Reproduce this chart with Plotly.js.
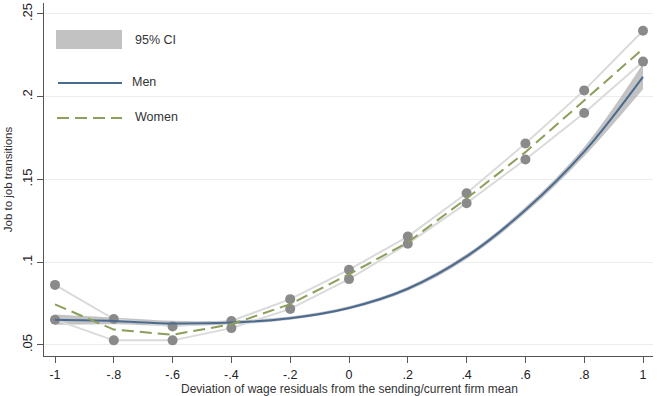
<!DOCTYPE html>
<html>
<head>
<meta charset="utf-8">
<script src="https://cdn.plot.ly/plotly-3.0.1.min.js"></script>
<style>
  html, body { margin: 0; padding: 0; background: #ffffff; }
  #chart { width: 657px; height: 396px; }
</style>
</head>
<body>
<div id="chart"></div>
<script>
// Wage-residual deviation grid (x) and tick labels
const deviation = [-1, -0.8, -0.6, -0.4, -0.2, 0, 0.2, 0.4, 0.6, 0.8, 1];
const xTickText = ["-1", "-.8", "-.6", "-.4", "-.2", "0", ".2", ".4", ".6", ".8", "1"];
const yTickVals = [0.05, 0.1, 0.15, 0.2, 0.25];
const yTickText = [".05", ".1", ".15", ".2", ".25"];

// Men: predicted job-to-job transition rate and 95% CI
const men      = [0.0652, 0.0645, 0.0630, 0.0636, 0.0662, 0.0724, 0.0840, 0.1035, 0.1315, 0.1668, 0.2120];
const menLow   = [0.0622, 0.0625, 0.0615, 0.0624, 0.0652, 0.0714, 0.0828, 0.1020, 0.1297, 0.1640, 0.2045];
const menHigh  = [0.0684, 0.0666, 0.0646, 0.0648, 0.0672, 0.0734, 0.0852, 0.1050, 0.1333, 0.1696, 0.2200];

// Women: predicted rate and 95% CI bounds
const women     = [0.0745, 0.0593, 0.0562, 0.0625, 0.0747, 0.0927, 0.1120, 0.1385, 0.1665, 0.1975, 0.2290];
const womenLow  = [0.0653, 0.0528, 0.0528, 0.0602, 0.0718, 0.0898, 0.1112, 0.1357, 0.1621, 0.1901, 0.2212];
const womenHigh = [0.0863, 0.0657, 0.0612, 0.0645, 0.0777, 0.0955, 0.1155, 0.1417, 0.1717, 0.2038, 0.2398];

const FONT = "Liberation Sans, Arial, Helvetica, sans-serif";
const MEN_COLOR = "#4a6a90";
const WOMEN_COLOR = "#8b9f5a";
const CI_FILL = "rgba(175,175,175,0.75)";

const traces = [
  { x: deviation, y: menLow, mode: "lines", line: { width: 0, shape: "spline", color: CI_FILL },
    showlegend: false, hoverinfo: "skip" },
  { x: deviation, y: menHigh, mode: "lines", line: { width: 0, shape: "spline", color: CI_FILL },
    fill: "tonexty", fillcolor: CI_FILL, showlegend: false, hoverinfo: "skip" },
  { x: deviation, y: womenHigh, mode: "lines+markers",
    line: { color: "#dadada", width: 2 },
    marker: { size: 10, color: "#8a8a8a" }, showlegend: false },
  { x: deviation, y: womenLow, mode: "lines+markers",
    line: { color: "#dadada", width: 2 },
    marker: { size: 10, color: "#8a8a8a" }, showlegend: false },
  { x: deviation, y: men, mode: "lines", name: "Men",
    line: { color: MEN_COLOR, width: 2, shape: "spline" }, showlegend: false },
  { x: deviation, y: women, mode: "lines", name: "Women",
    line: { color: WOMEN_COLOR, width: 2, dash: "12px,6px" }, showlegend: false }
];

// Legend and x-axis title placed in paper coordinates
// (plot area spans 44..653 x 3..356 px)
const L = 44, W = 609, B = 356, H = 353;
const px = v => (v - L) / W;
const py = v => (B - v) / H;

const shapes = [
  { type: "rect", xref: "paper", yref: "paper",
    x0: px(56), x1: px(122), y0: py(49), y1: py(30),
    fillcolor: "#c2c2c2", line: { width: 0 } },
  { type: "line", xref: "paper", yref: "paper",
    x0: px(58), x1: px(122), y0: py(83), y1: py(83),
    line: { color: MEN_COLOR, width: 2 } },
  { type: "line", xref: "paper", yref: "paper",
    x0: px(57), x1: px(122), y0: py(118), y1: py(118),
    line: { color: WOMEN_COLOR, width: 2, dash: "12px,6px" } }
];

const legendText = (txt, x, y) => ({
  text: txt, xref: "paper", yref: "paper", x: px(x), y: py(y),
  xanchor: "left", yanchor: "middle", showarrow: false,
  font: { family: FONT, size: 12.5, color: "#333333" }
});

const xTitle = {
  text: "Deviation of wage residuals from the sending/current firm mean",
  xref: "paper", yref: "paper", x: px(349), y: py(389),
  xanchor: "center", yanchor: "middle", showarrow: false,
  font: { family: FONT, size: 12, color: "#333333" }
};

const layout = {
  width: 657, height: 396,
  margin: { l: 44, r: 4, t: 3, b: 40 },
  paper_bgcolor: "#ffffff", plot_bgcolor: "#ffffff",
  font: { family: FONT, color: "#222222" },
  showlegend: false,
  xaxis: {
    range: [-1.0374, 1.034],
    tickvals: deviation, ticktext: xTickText,
    ticks: "outside", ticklen: 6, tickwidth: 1, tickcolor: "#555555",
    ticklabelstandoff: 1,
    showline: true, linecolor: "#555555", linewidth: 1,
    showgrid: false, zeroline: false,
    tickfont: { family: FONT, size: 12.5, color: "#222222" }
  },
  yaxis: {
    range: [0.04335, 0.2566],
    tickvals: yTickVals, ticktext: yTickText,
    ticks: "outside", ticklen: 6, tickwidth: 1, tickcolor: "#555555",
    tickangle: -90,
    showline: true, linecolor: "#555555", linewidth: 1,
    showgrid: true, gridcolor: "#ececec", gridwidth: 1, zeroline: false,
    tickfont: { family: FONT, size: 13, color: "#222222" },
    title: { text: "Job to job transitions",
             font: { family: FONT, size: 11.5, color: "#333333" }, standoff: 4 }
  },
  shapes: shapes,
  annotations: [
    legendText("95% CI", 133, 40),
    legendText("Men", 130, 82),
    legendText("Women", 133, 117),
    xTitle
  ]
};

Plotly.newPlot("chart", traces, layout, { displayModeBar: false, staticPlot: true });
</script>
</body>
</html>
